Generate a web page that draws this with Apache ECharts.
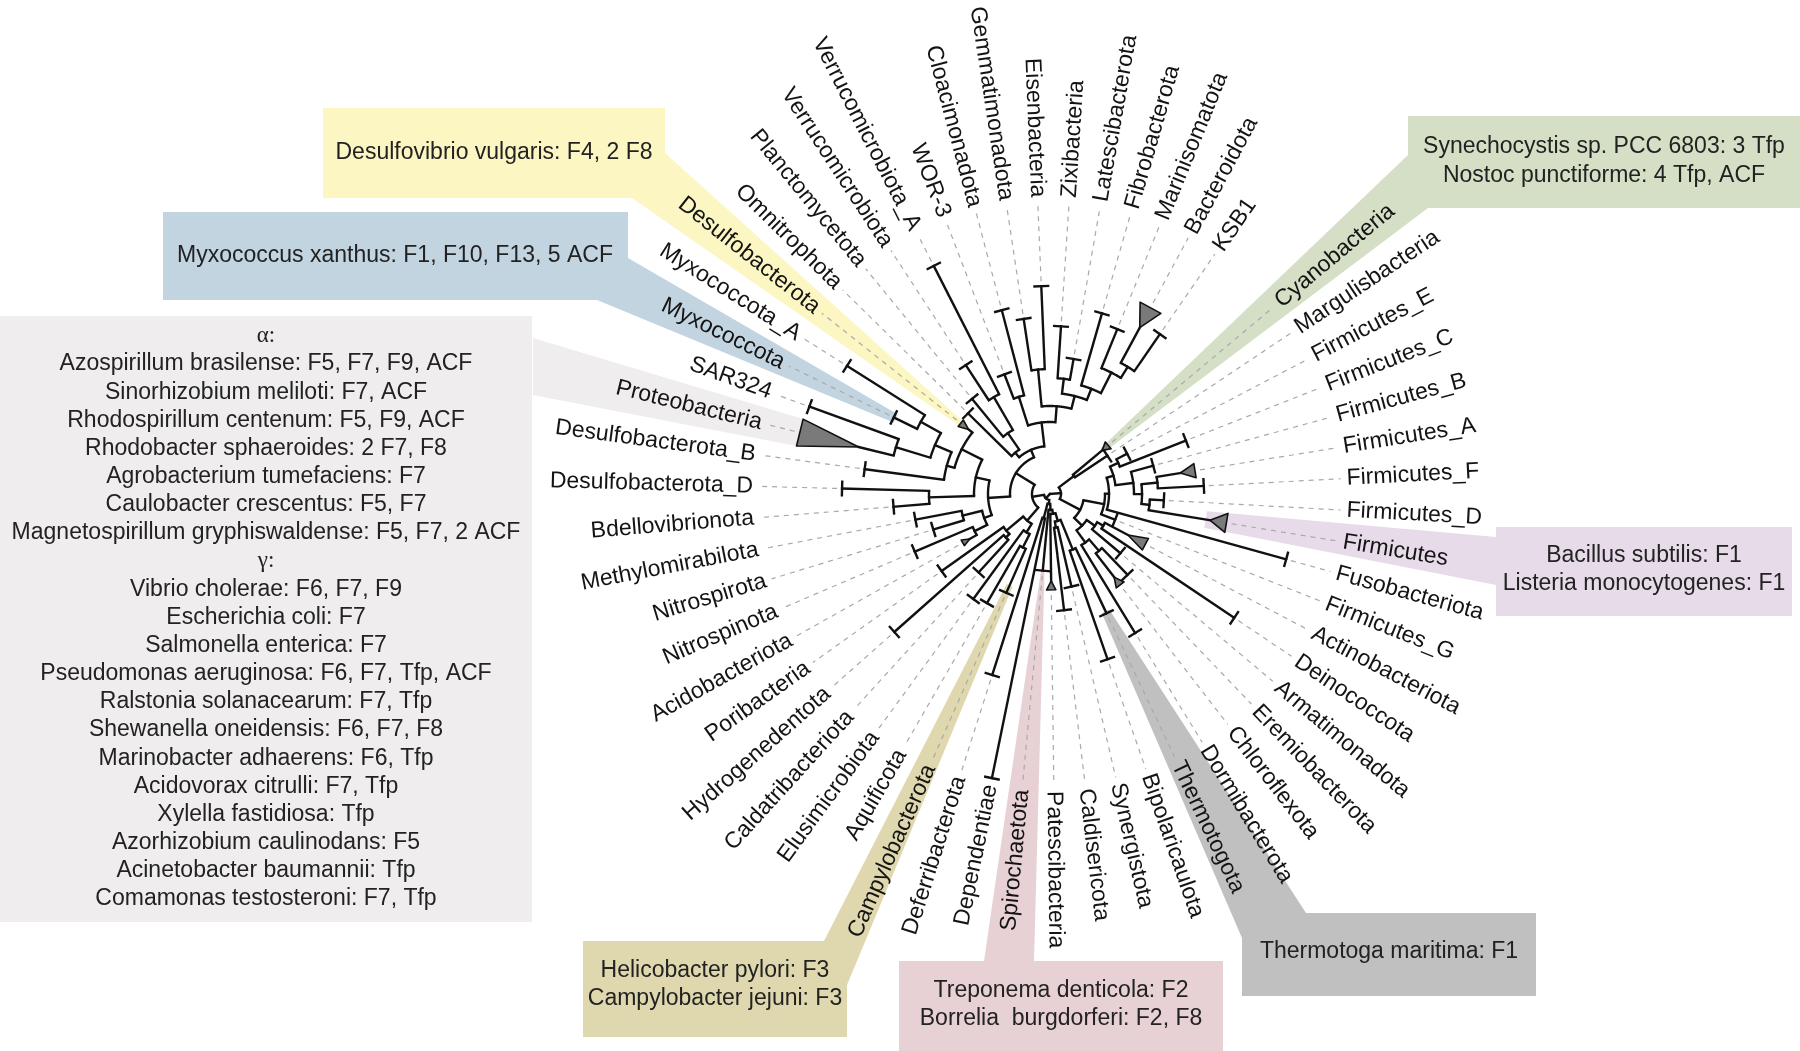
<!DOCTYPE html>
<html>
<head>
<meta charset="utf-8">
<title>Phylogenetic tree</title>
<script src="https://cdn.jsdelivr.net/npm/echarts@6/dist/echarts.min.js"></script>
<style>
html,body{margin:0;padding:0;background:#ffffff;}
#chart{width:1800px;height:1051px;}
</style>
</head>
<body>
<div id="chart"></div>
<script>
// ================= DATA =================
// leaves in counter-clockwise order, starting at KSB1
const leafNames = ["KSB1","Bacteroidota","Marinisomatota","Fibrobacterota","Latescibacterota","Zixibacteria","Eisenbacteria","Gemmatimonadota","Cloacimonadota","WOR-3","Verrucomicrobiota_A","Verrucomicrobiota","Planctomycetota","Omnitrophota","Desulfobacterota","Myxococcota_A","Myxococcota","SAR324","Proteobacteria","Desulfobacterota_B","Desulfobacterota_D","Bdellovibrionota","Methylomirabilota","Nitrospirota","Nitrospinota","Acidobacteriota","Poribacteria","Hydrogenedentota","Caldatribacteriota","Elusimicrobiota","Aquificota","Campylobacterota","Deferribacterota","Dependentiae","Spirochaetota","Patescibacteria","Caldisericota","Synergistota","Bipolaricaulota","Thermotogota","Dormibacterota","Chloroflexota","Eremiobacterota","Armatimonadota","Deinococcota","Actinobacteriota","Firmicutes_G","Fusobacteriota","Firmicutes","Firmicutes_D","Firmicutes_F","Firmicutes_A","Firmicutes_B","Firmicutes_C","Firmicutes_E","Margulisbacteria","Cyanobacteria"];
// distance of each terminal branch end from the root
const leafTipR = [194,189,178,188,137,168,208,177,190,128,256,154,123,115,104,240,174,256,197,187,208,157,137,122,147,92,133,208,106,130,126,108,190,290,77,87,117,95,175,132,163,105,112,92,222,88,70,245,162,114,154,132,107,146,87,69,68];
// collapsed clades drawn as triangles
const triangleLeaf = [1, 14, 18, 25, 35, 41, 45, 48, 51, 56];
const triangleLength = [23, 10, 61, 8, 9, 10, 20, 17, 15, 8];
const triangleHalfWidth = [0.52, 0.34, 0.5, 0.3, 0.45, 0.4, 0.56, 0.5, 0.45, 0.55];
// topology: [nodeDistance, child, child...]; numbers = leaf index
const treeTopology =
[0,
 [6,
  [18,
   [40,
    [48,
     [72,
      [88,
       [101,
        [113, [136, [149, 0, 1], 2], 3],
        [116, 4, 5]],
       [125, 6, 7]],
      [102, 8, 9]],
     [54, [74, [112, 10, 11], 12], 13]],
    [62,
     [76,
      [99, 14, [107, [125, [148, 15, 16], [161, 17, 18]], 19]],
      [121, 20, 21]],
     [70, [90, 22, 23], [84, 24, 25]]]],
   [35,
    [57, 26, [62, 27, 28]],
    [45, 29, [60, 30, 31]]]],
  [10,
   [25, 32, 33],
   [16, 34, [20, 35, [28, [34, 36, 37], [60, 38, 39]]]]]],
 [11,
  [34,
   [45, [60, 40, [75, 41, 42]], [55, 43, [62, 44, 45]]],
   [55, 46, [59, 47, [66, [84, [92, [100, 48, 49], [108, 50, 51]], 52], [75, 53, 54]]]]],
  [30, 55, 56]]];
// highlighted phyla
const highlightLeaf = [14, 16, 18, 31, 34, 39, 48, 56];
const highlightColor = ["#fcf6c3","#c3d4e1","#efedee","#dfd8ae","#e8d1d4","#c0c0c1","#e7dbea","#d4dfc5"];
const highlightStartR = [108, 172, 258, 100, 78, 130, 158, 68];
const highlightHalfWidth = [0.22, 0.25, 0.5, 0.3, 0.22, 0.3, 0.5, 0.35];
// annotation texts
const yellowBoxText = ["Desulfovibrio vulgaris: F4, 2 F8"];
const blueBoxText = ["Myxococcus xanthus: F1, F10, F13, 5 ACF"];
const proteoBoxText = ["α:","Azospirillum brasilense: F5, F7, F9, ACF","Sinorhizobium meliloti: F7, ACF","Rhodospirillum centenum: F5, F9, ACF","Rhodobacter sphaeroides: 2 F7, F8","Agrobacterium tumefaciens: F7","Caulobacter crescentus: F5, F7","Magnetospirillum gryphiswaldense: F5, F7, 2 ACF","γ:","Vibrio cholerae: F6, F7, F9","Escherichia coli: F7","Salmonella enterica: F7","Pseudomonas aeruginosa: F6, F7, Tfp, ACF","Ralstonia solanacearum: F7, Tfp","Shewanella oneidensis: F6, F7, F8","Marinobacter adhaerens: F6, Tfp","Acidovorax citrulli: F7, Tfp","Xylella fastidiosa: Tfp","Azorhizobium caulinodans: F5","Acinetobacter baumannii: Tfp","Comamonas testosteroni: F7, Tfp"];
const greenBoxText = ["Synechocystis sp. PCC 6803: 3 Tfp","Nostoc punctiforme: 4 Tfp, ACF"];
const purpleBoxText = ["Bacillus subtilis: F1","Listeria monocytogenes: F1"];
const khakiBoxText = ["Helicobacter pylori: F3","Campylobacter jejuni: F3"];
const pinkBoxText = ["Treponema denticola: F2","Borrelia  burgdorferi: F2, F8"];
const greyBoxText = ["Thermotoga maritima: F1"];

// ================= LAYOUT =================
const SANS = '"Liberation Sans", Arial, Helvetica, sans-serif';
const SERIF = '"Liberation Serif", "Times New Roman", serif';
const LABEL_R = 297, DASH_END = 291, BAR_HALF = 8, LINE_W = 2.4;
// far ends of highlight bands (where they meet the boxes) [joined to near(i+h), joined to near(i-h)]
const bandFar = [
  [[632,198],[665,153]],
  [[597,300],[628,258]],
  [[533,395],[533,338]],
  [[847,985],[824,941]],
  [[1034,961],[984,961]],
  [[1306,913],[1242,938]],
  [[1496,537],[1496,585]],
  [[1408,155],[1428,208]]
];

const triIdx = {};
triangleLeaf.forEach((l, k) => { triIdx[l] = k; });
function outerR(i) {
  const k = triIdx[i];
  return leafTipR[i] + (k === undefined ? 0 : triangleLength[k]);
}

// build branch segments from topology
const radialData = []; // [rOuter, angle, rInner]
const arcData = [];    // [r, a1, a2]
function walk(node, parentR) {
  if (typeof node === 'number') {
    radialData.push([leafTipR[node], node, parentR]);
    return node;
  }
  const r = node[0];
  const angles = node.slice(1).map(ch => walk(ch, r));
  const a1 = angles[0], a2 = angles[angles.length - 1];
  if (r > 0) arcData.push([r, a1, a2]);
  const a = (a1 + a2) / 2;
  if (parentR !== null) radialData.push([r, a, parentR]);
  return a;
}
walk(treeTopology, null);

const leafData = leafNames.map((n, i) => [leafTipR[i], i]);

function dirAt(api, a) {
  const p = api.coord([100, a]), c = api.coord([0, a]);
  const dx = p[0] - c[0], dy = p[1] - c[1];
  const L = Math.hypot(dx, dy) || 1;
  return [dx / L, dy / L];
}

const chart = echarts.init(document.getElementById('chart'), null, {renderer: 'canvas', width: 1800, height: 1051});

const graphics = [];
function addBox(x, y, w, h, fill) {
  graphics.push({type: 'rect', silent: true, z: 0, shape: {x: x, y: y, width: w, height: h}, style: {fill: fill}});
}
function addLines(lines, cx, y0, step) {
  lines.forEach((t, k) => {
    const greek = /^[αγ]:$/.test(t);
    graphics.push({type: 'text', silent: true, z: 100, x: cx, y: y0 + k * step,
      style: {text: t, fill: '#222222', fontSize: 23, fontFamily: greek ? SERIF : SANS,
              align: 'center', verticalAlign: 'middle', textAlign: 'center', textVerticalAlign: 'middle'}});
  });
}
addBox(323, 108, 342, 90, highlightColor[0]);
addBox(163, 212, 465, 88, highlightColor[1]);
addBox(0, 316, 532, 606, highlightColor[2]);
addBox(583, 941, 264, 96, highlightColor[3]);
addBox(899, 961, 324, 90, highlightColor[4]);
addBox(1242, 913, 294, 83, highlightColor[5]);
addBox(1496, 527, 296, 89, highlightColor[6]);
addBox(1408, 116, 392, 92, highlightColor[7]);
addLines(yellowBoxText, 494, 153, 28);
addLines(blueBoxText, 395, 256, 28);
addLines(proteoBoxText, 266, 336, 28.15);
addLines(khakiBoxText, 715, 971, 28);
addLines(pinkBoxText, 1061, 991, 27.5);
addLines(greyBoxText, 1389, 952, 28);
addLines(purpleBoxText, 1644, 556, 27.5);
addLines(greenBoxText, 1604, 147, 28.5);

const option = {
  animation: false,
  backgroundColor: '#ffffff',
  polar: {center: [1050, 494], radius: LABEL_R},
  angleAxis: {type: 'value', min: 0, max: 360 / 6.15, startAngle: 55.5, clockwise: false, show: false},
  radiusAxis: {type: 'value', min: 0, max: LABEL_R, show: false},
  graphic: graphics,
  series: [
    { // highlight bands
      type: 'custom', coordinateSystem: 'polar', z: 1, silent: true, clip: false,
      data: highlightLeaf.map((l, k) => [highlightStartR[k], l, k]),
      renderItem: function (params, api) {
        const r = api.value(0), i = api.value(1), k = api.value(2);
        const h = highlightHalfWidth[k];
        const a = api.coord([r, i - h]), b = api.coord([r, i + h]);
        const far = bandFar[k];
        return {type: 'polygon', shape: {points: [a, b, far[0], far[1]]}, style: {fill: highlightColor[k]}};
      }
    },
    { // dashed guides
      type: 'custom', coordinateSystem: 'polar', z: 2, silent: true, clip: false,
      data: leafData,
      renderItem: function (params, api) {
        const i = api.value(1);
        const r0 = outerR(i) + 5;
        if (r0 >= DASH_END) return null;
        const p0 = api.coord([r0, i]), p1 = api.coord([DASH_END, i]);
        return {type: 'line', shape: {x1: p0[0], y1: p0[1], x2: p1[0], y2: p1[1]},
                style: {stroke: '#a9a9a9', lineWidth: 1.2, lineDash: [5, 5]}};
      }
    },
    { // radial branches
      type: 'custom', coordinateSystem: 'polar', z: 3, silent: true, clip: false,
      data: radialData,
      renderItem: function (params, api) {
        const r1 = api.value(0), a = api.value(1), r0 = api.value(2);
        const p1 = api.coord([r1, a]), p0 = api.coord([r0, a]);
        return {type: 'line', shape: {x1: p0[0], y1: p0[1], x2: p1[0], y2: p1[1]},
                style: {stroke: '#111111', lineWidth: LINE_W, lineCap: 'square'}};
      }
    },
    { // arcs at internal nodes
      type: 'custom', coordinateSystem: 'polar', z: 3, silent: true, clip: false,
      data: arcData,
      renderItem: function (params, api) {
        const r = api.value(0), a1 = api.value(1), a2 = api.value(2);
        const n = Math.max(2, Math.ceil(Math.abs(a2 - a1) / 0.04));
        const pts = [];
        for (let k = 0; k <= n; k++) pts.push(api.coord([r, a1 + (a2 - a1) * k / n]));
        return {type: 'polyline', shape: {points: pts}, style: {stroke: '#111111', lineWidth: LINE_W, fill: null, lineJoin: 'round'}};
      }
    },
    { // tips: bars and triangles
      type: 'custom', coordinateSystem: 'polar', z: 4, silent: true, clip: false,
      data: leafData,
      renderItem: function (params, api) {
        const r = api.value(0), i = api.value(1);
        const k = triIdx[i];
        if (k !== undefined) {
          const len = triangleLength[k], h = triangleHalfWidth[k];
          return {type: 'polygon', shape: {points: [api.coord([r, i]), api.coord([r + len, i - h]), api.coord([r + len, i + h])]},
                  style: {fill: '#7a7a7a', stroke: '#111111', lineWidth: 1.6, lineJoin: 'round'}};
        }
        const p = api.coord([r, i]);
        const d = dirAt(api, i);
        const nx = -d[1], ny = d[0];
        return {type: 'line', shape: {x1: p[0] - BAR_HALF * nx, y1: p[1] - BAR_HALF * ny, x2: p[0] + BAR_HALF * nx, y2: p[1] + BAR_HALF * ny},
                style: {stroke: '#111111', lineWidth: LINE_W}};
      }
    },
    { // leaf labels
      type: 'custom', coordinateSystem: 'polar', z: 5, silent: true, clip: false,
      data: leafData,
      renderItem: function (params, api) {
        const i = api.value(1);
        const p = api.coord([LABEL_R, i]);
        const d = dirAt(api, i);
        const th = Math.atan2(-d[1], d[0]);
        let align = 'left', rot = th;
        if (d[0] < -0.001) { align = 'right'; rot = th > 0 ? th - Math.PI : th + Math.PI; }
        return {type: 'text', x: p[0], y: p[1], rotation: rot,
                style: {text: leafNames[i], fill: '#141414', fontSize: 23, fontFamily: SANS,
                        align: align, verticalAlign: 'middle'}};
      }
    }
  ]
};
chart.setOption(option);
</script>
</body>
</html>
